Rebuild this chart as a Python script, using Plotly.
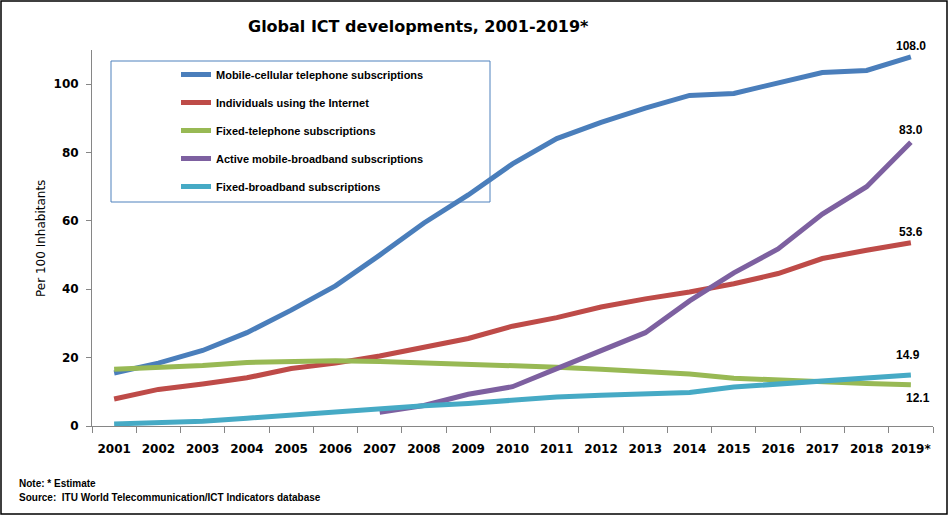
import plotly.graph_objects as go

years = ["2001", "2002", "2003", "2004", "2005", "2006", "2007", "2008", "2009", "2010",
         "2011", "2012", "2013", "2014", "2015", "2016", "2017", "2018", "2019*"]

mobile_cellular = [15.5, 18.4, 22.1, 27.3, 33.9, 41.0, 50.0, 59.4, 67.6, 76.7,
                   84.1, 88.8, 93.0, 96.7, 97.3, 100.5, 103.4, 104.0, 108.0]
internet_users = [7.9, 10.7, 12.3, 14.1, 16.8, 18.4, 20.5, 23.0, 25.6, 29.2,
                  31.7, 34.8, 37.2, 39.2, 41.6, 44.6, 49.0, 51.4, 53.6]
fixed_telephone = [16.6, 17.1, 17.7, 18.6, 19.0, 19.1, 18.9, 18.5, 18.3, 17.8,
                   17.2, 16.6, 16.0, 15.2, 14.0, 13.4, 12.8, 12.4, 12.1]
mobile_broadband = [None, None, None, None, None, None, 4.0, 6.0, 9.3, 11.5,
                    16.8, 22.0, 27.3, 36.6, 44.8, 51.8, 62.0, 70.0, 83.0]
fixed_broadband = [0.6, 1.0, 1.4, 2.3, 3.2, 4.3, 5.1, 5.9, 6.6, 7.6,
                   8.5, 9.0, 9.5, 9.8, 11.4, 12.3, 13.1, 14.1, 14.9]

series_names = ["Mobile-cellular telephone subscriptions",
                "Individuals using the Internet",
                "Fixed-telephone subscriptions",
                "Active mobile-broadband subscriptions",
                "Fixed-broadband subscriptions"]
series_values = [mobile_cellular, internet_users, fixed_telephone, mobile_broadband, fixed_broadband]
colors = ["#4A7EBB", "#BE4B48", "#98B954", "#7D60A0", "#46AAC5"]

title_text = "Global ICT developments, 2001-2019*"
y_title = "Per 100 Inhabitants"
note_text = "Note: * Estimate"
source_text = "Source:  ITU World Telecommunication/ICT Indicators database"

W, H = 951, 518
L, R, T, B = 92, 18, 50, 92
PW, PH = W - L - R, H - T - B


def px(x):
    return (x - L) / PW


def py(y):
    return (H - B - y) / PH


fig = go.Figure()
for i, (name, vals, col) in enumerate(zip(series_names, series_values, colors)):
    fig.add_trace(go.Scatter(
        x=years, y=vals, name=name, mode="lines",
        line=dict(color=col, width=5, shape="linear"),
        legendgroup=f"g{i}", connectgaps=False,
    ))

# end labels
label_offsets = [(0, 11), (0, 11), (7, -13), (0, 12), (-3, 20)]
for vals, (xs, ys) in zip(series_values, label_offsets):
    fig.add_annotation(
        x=years[-1], y=vals[-1], text=f"{vals[-1]:.1f}", showarrow=False,
        xshift=xs, yshift=ys, xanchor="center", yanchor="middle",
        font=dict(family="Liberation Sans", size=12, color="#000000", weight="bold"),
    )

fig.add_annotation(
    x=px(418), y=py(27), xref="paper", yref="paper", text=f"<b>{title_text}</b>",
    xanchor="center", yanchor="middle",
    showarrow=False, font=dict(family="DejaVu Sans", size=16, color="#000000"),
)
fig.add_annotation(
    x=px(41), y=py(239), xref="paper", yref="paper", text=y_title, textangle=-90,
    xanchor="center", yanchor="middle",
    showarrow=False, font=dict(family="DejaVu Sans", size=12, color="#000000"),
)
fig.add_annotation(
    x=px(17), y=py(483), xref="paper", yref="paper", text=f"<b>{note_text}</b>",
    showarrow=False, xanchor="left", yanchor="middle",
    font=dict(family="Liberation Sans Narrow, Liberation Sans", size=10, color="#000000"),
)
fig.add_annotation(
    x=px(17), y=py(497), xref="paper", yref="paper", text=f"<b>{source_text}</b>",
    showarrow=False, xanchor="left", yanchor="middle",
    font=dict(family="Liberation Sans Narrow, Liberation Sans", size=10, color="#000000"),
)

# legend frame and outer border
fig.add_shape(type="rect", xref="paper", yref="paper",
              x0=px(111), x1=px(490), y0=py(61), y1=py(202),
              line=dict(color="#4F81BD", width=1), fillcolor="rgba(0,0,0,0)", layer="below")
fig.add_shape(type="rect", xref="paper", yref="paper",
              x0=px(1), x1=px(947), y0=py(1), y1=py(514),
              line=dict(color="#000000", width=1.5), fillcolor="rgba(0,0,0,0)")

fig.update_layout(
    width=W, height=H,
    margin=dict(l=L, r=R, t=T, b=B, autoexpand=False),
    paper_bgcolor="white", plot_bgcolor="white",
    showlegend=True,
    legend=dict(
        x=px(176), y=py(60), xanchor="left", yanchor="top",
        bgcolor="rgba(0,0,0,0)", borderwidth=0,
        font=dict(family="Liberation Sans Narrow, Liberation Sans", size=11, color="#000000", weight="bold"),
        tracegroupgap=9, itemwidth=30,
    ),
    xaxis=dict(
        type="category", range=[-0.5, 18.5], showgrid=False, zeroline=False,
        showline=True, linecolor="#868686", linewidth=1, automargin=False,
        ticks="outside", tickson="boundaries", ticklen=6, tickcolor="#868686",
        tickangle=0, ticklabelstandoff=12,
        tickfont=dict(family="DejaVu Sans", size=12, color="#000000", weight="bold"),
    ),
    yaxis=dict(
        range=[0, 110], dtick=20, tick0=0, showgrid=False, zeroline=False,
        showline=True, linecolor="#868686", linewidth=1, automargin=False,
        ticks="outside", ticklen=5, tickcolor="#868686", ticklabelstandoff=5,
        tickfont=dict(family="DejaVu Sans", size=12, color="#000000", weight="bold"),
    ),
)

fig.write_html("out.html", post_script="document.body.style.margin='0';",
               config={"displayModeBar": False})
